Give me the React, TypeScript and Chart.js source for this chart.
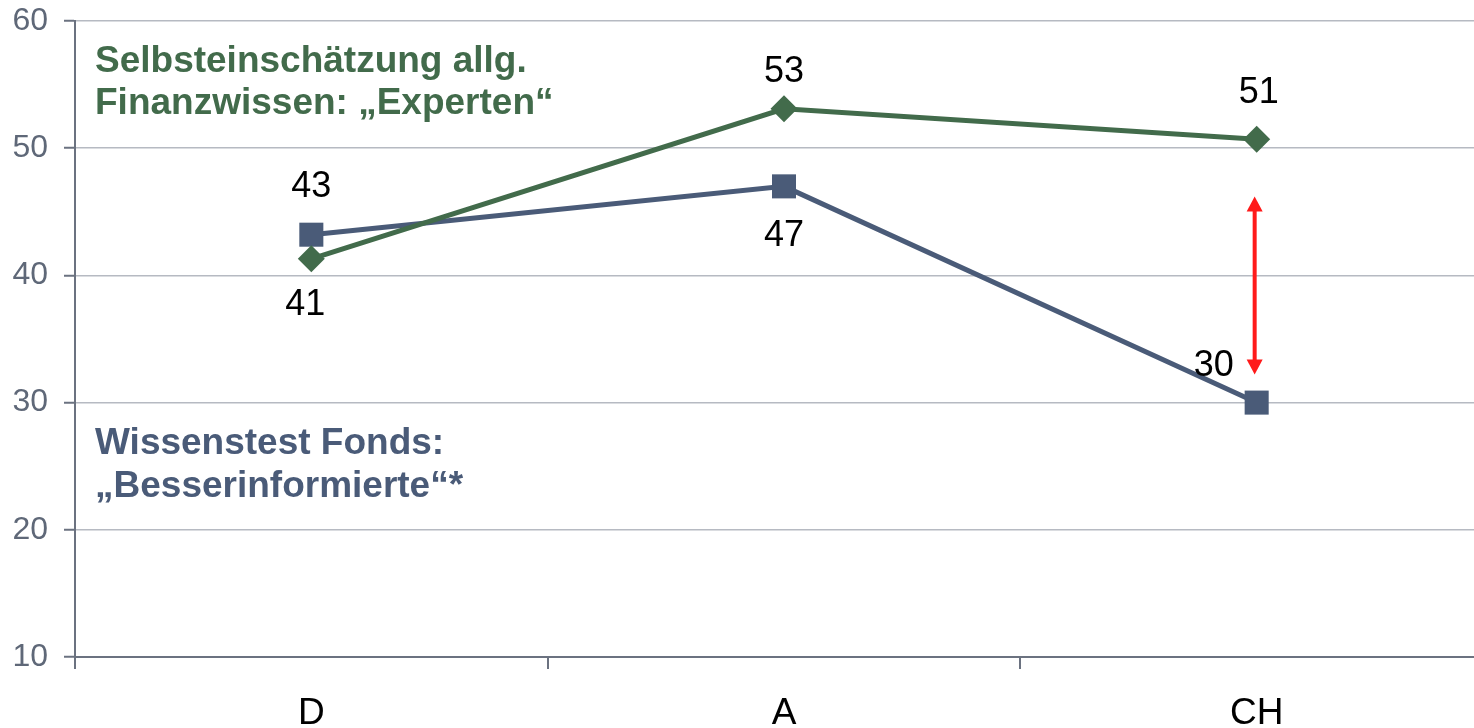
import React, { useEffect, useRef } from "react";
import { Chart, registerables } from "chart.js";

Chart.register(...registerables);

const categories = ["D", "A", "CH"];
const expertenValues = [41.3, 53.1, 50.7];
const besserValues = [43.2, 47.0, 30.0];
const expertenLabels = ["41", "53", "51"];
const besserLabels = ["43", "47", "30"];
const yTicks = [10, 20, 30, 40, 50, 60];
const arrowFrom = 46.2;
const arrowTo = 32.2;

const GREEN = "#426B4B";
const BLUE = "#4A5B78";
const AXIS = "#6B7280";
const GRID = "#B6BAC2";
const FONT = "'Liberation Sans', Arial, sans-serif";

// label offsets (pixels) relative to points: [dx, dy]
const expertenLabelOffsets = [[-6, 46], [0, -37], [2, -46]];
const besserLabelOffsets = [[0, -48], [0, 50], [-43, -37]];

const overlayPlugin = {
  id: "overlay",
  afterDatasetsDraw(chart: any) {
    const ctx = chart.ctx;
    const xs = chart.scales.x;
    const ys = chart.scales.y;
    const area = chart.chartArea;
    ctx.save();
    // data labels
    ctx.fillStyle = "#000";
    ctx.font = `36px ${FONT}`;
    ctx.textAlign = "center";
    ctx.textBaseline = "middle";
    expertenValues.forEach((v, i) => {
      const x = xs.getPixelForValue(i) + expertenLabelOffsets[i][0];
      const y = ys.getPixelForValue(v) + expertenLabelOffsets[i][1];
      ctx.fillText(expertenLabels[i], x, y);
    });
    besserValues.forEach((v, i) => {
      const x = xs.getPixelForValue(i) + besserLabelOffsets[i][0];
      const y = ys.getPixelForValue(v) + besserLabelOffsets[i][1];
      ctx.fillText(besserLabels[i], x, y);
    });

    // red arrow
    const ax = xs.getPixelForValue(2) - 2;
    const yTop = ys.getPixelForValue(arrowFrom);
    const yBot = ys.getPixelForValue(arrowTo);
    const head = 15;
    const hw = 8;
    ctx.strokeStyle = "#FF1A1A";
    ctx.fillStyle = "#FF1A1A";
    ctx.lineWidth = 4;
    ctx.beginPath();
    ctx.moveTo(ax, yTop + head - 1);
    ctx.lineTo(ax, yBot - head + 1);
    ctx.stroke();
    ctx.beginPath();
    ctx.moveTo(ax, yTop);
    ctx.lineTo(ax - hw, yTop + head);
    ctx.lineTo(ax + hw, yTop + head);
    ctx.closePath();
    ctx.fill();
    ctx.beginPath();
    ctx.moveTo(ax, yBot);
    ctx.lineTo(ax - hw, yBot - head);
    ctx.lineTo(ax + hw, yBot - head);
    ctx.closePath();
    ctx.fill();

    // series annotations
    ctx.textAlign = "left";
    ctx.font = `bold 37px ${FONT}`;
    ctx.fillStyle = GREEN;
    ctx.fillText("Selbsteinschätzung allg.", area.left + 20, 62);
    ctx.fillText("Finanzwissen: \u201EExperten\u201C", area.left + 20, 104);
    ctx.fillStyle = BLUE;
    ctx.fillText("Wissenstest Fonds:", area.left + 20, 444);
    ctx.fillText("\u201EBesserinformierte\u201C*", area.left + 20, 487);
    ctx.restore();
  },
};

export default function App() {
  const ref = useRef<HTMLCanvasElement>(null);
  useEffect(() => {
    if (!ref.current) return;
    const chart = new Chart(ref.current, {
      type: "line",
      data: {
        labels: categories,
        datasets: [
          {
            label: "Experten",
            data: expertenValues,
            borderColor: GREEN,
            backgroundColor: GREEN,
            borderWidth: 5,
            pointStyle: "rectRot",
            pointRadius: 13.5,
            pointBorderWidth: 0,
            pointBackgroundColor: GREEN,
            fill: false,
            tension: 0,
          },
          {
            label: "Besserinformierte",
            data: besserValues,
            borderColor: BLUE,
            backgroundColor: BLUE,
            borderWidth: 5,
            pointStyle: "rect",
            pointRadius: 17,
            pointBorderWidth: 0,
            pointBackgroundColor: BLUE,
            fill: false,
            tension: 0,
          },
        ],
      },
      options: {
        animation: false,
        responsive: false,
        devicePixelRatio: 1,
        layout: { padding: { top: 21, right: 1, left: 0, bottom: 0 } },
        plugins: {
          legend: { display: false },
          tooltip: { enabled: false },
        },
        scales: {
          x: {
            offset: true,
            grid: {
              offset: true,
              drawOnChartArea: false,
              drawTicks: true,
              tickLength: 12,
              tickColor: AXIS,
              tickWidth: 2,
              color: AXIS,
              lineWidth: 2,
            },
            border: { display: true, color: AXIS, width: 2 },
            ticks: {
              color: "#000",
              font: { family: FONT, size: 37 },
              padding: 23,
              maxRotation: 0,
            },
            afterFit(scale: any) {
              scale.height = 71;
              scale.paddingLeft = 0;
              scale.paddingRight = 0;
              scale.paddingTop = 0;
              scale.paddingBottom = 0;
            },
          },
          y: {
            min: 10,
            max: 60,
            afterBuildTicks(scale: any) {
              scale.ticks = yTicks.map((v) => ({ value: v }));
            },
            grid: {
              color: GRID,
              lineWidth: 1.5,
              drawTicks: true,
              tickLength: 11,
              tickColor: AXIS,
              tickWidth: 2,
            },
            border: { display: true, color: AXIS, width: 2 },
            ticks: {
              color: "#5F6878",
              font: { family: FONT, size: 32 },
              padding: 16,
            },
            afterFit(scale: any) {
              scale.width = 75;
              scale.paddingLeft = 0;
              scale.paddingRight = 0;
              scale.paddingTop = 0;
              scale.paddingBottom = 0;
            },
          },
        },
      },
      plugins: [overlayPlugin],
    });
    return () => chart.destroy();
  }, []);
  return (
    <div
      style={{
        position: "fixed",
        left: 0,
        top: 0,
        width: 1474,
        height: 728,
        overflow: "hidden",
        background: "#fff",
      }}
    >
      <canvas ref={ref} width={1510} height={728} style={{ display: "block" }} />
    </div>
  );
}
